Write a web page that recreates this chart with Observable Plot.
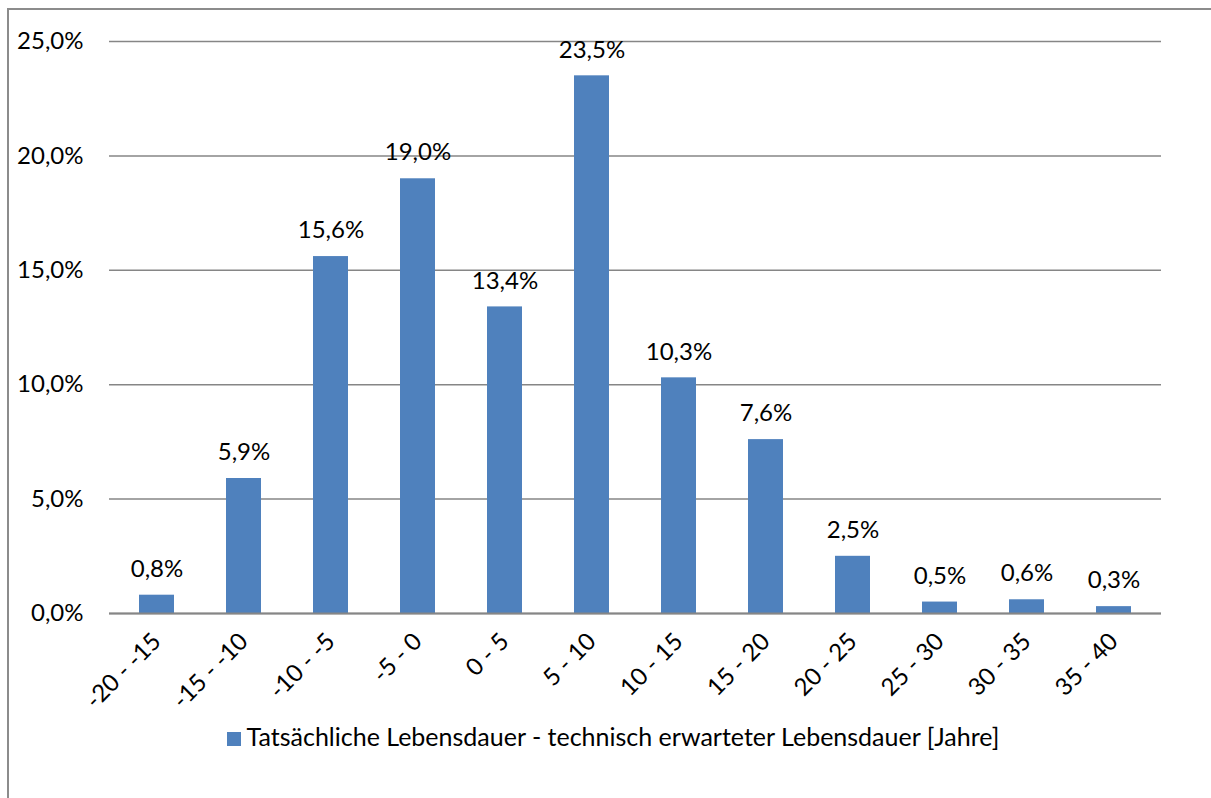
<!DOCTYPE html>
<html>
<head>
<meta charset="utf-8">
<script src="https://cdn.jsdelivr.net/npm/d3@7"></script>
<script src="https://cdn.jsdelivr.net/npm/@observablehq/plot@0.6"></script>
<style>
  html, body { margin: 0; padding: 0; background: #fff; overflow: hidden; width: 1211px; height: 798px; }
  #frame { position: absolute; left: 7px; top: 8px; width: 1400px; height: 1000px; border: 2px solid #8c8c8c; box-sizing: border-box; }
  #chart { position: absolute; left: 0; top: 0; }
  #legend { position: absolute; left: 0; top: 721px; width: 1226px; text-align: center; font-family: Lato, sans-serif; font-size: 25px; color: #000; }
  #legend .sw { display: inline-block; width: 14px; height: 14px; background: #4F81BD; margin-right: 6px; vertical-align: 0px; }
</style>
</head>
<body>
<div id="frame"></div>
<div id="chart"></div>
<div id="legend"><span class="sw"></span>Tatsächliche Lebensdauer - technisch erwarteter Lebensdauer [Jahre]</div>
<script>
const categories = ["-20 - -15","-15 - -10","-10 - -5","-5 - 0","0 - 5","5 - 10","10 - 15","15 - 20","20 - 25","25 - 30","30 - 35","35 - 40"];
const values = [0.8, 5.9, 15.6, 19.0, 13.4, 23.5, 10.3, 7.6, 2.5, 0.5, 0.6, 0.3];
const yTicks = [0, 5, 10, 15, 20, 25];

const data = categories.map((c, i) => ({cat: c, v: values[i]}));
const fmt = d => d.toFixed(1).replace(".", ",") + "%";

const chart = Plot.plot({
  width: 1211,
  height: 700,
  marginLeft: 109,
  marginRight: 50,
  marginTop: 41,
  marginBottom: 87,
  style: {fontFamily: "Lato, sans-serif", fontSize: "24px", color: "#000", background: "transparent", overflow: "visible"},
  x: {domain: categories, paddingInner: 0.6, paddingOuter: 0.3, label: null},
  y: {domain: [0, 25], label: null},
  marks: [
    Plot.gridY(yTicks, {stroke: "#868686", strokeOpacity: 1, strokeWidth: 1.5}),
    Plot.barY(data, {x: "cat", y: "v", fill: "#4F81BD"}),
    Plot.text(data, {x: "cat", y: "v", text: d => fmt(d.v), dy: -26, fill: "#000"}),
    Plot.ruleY([0], {stroke: "#868686", strokeWidth: 2}),
    Plot.ruleX([0], {x: () => 0, stroke: "#868686", strokeWidth: 1.5}),
    Plot.axisY(yTicks, {tickSize: 0, tickPadding: 26, tickFormat: fmt, fill: "#000"}),
    Plot.axisX({tickSize: 0, tickRotate: -45, tickPadding: 24, fill: "#000"})
  ]
});
document.getElementById("chart").appendChild(chart);
</script>
</body>
</html>
